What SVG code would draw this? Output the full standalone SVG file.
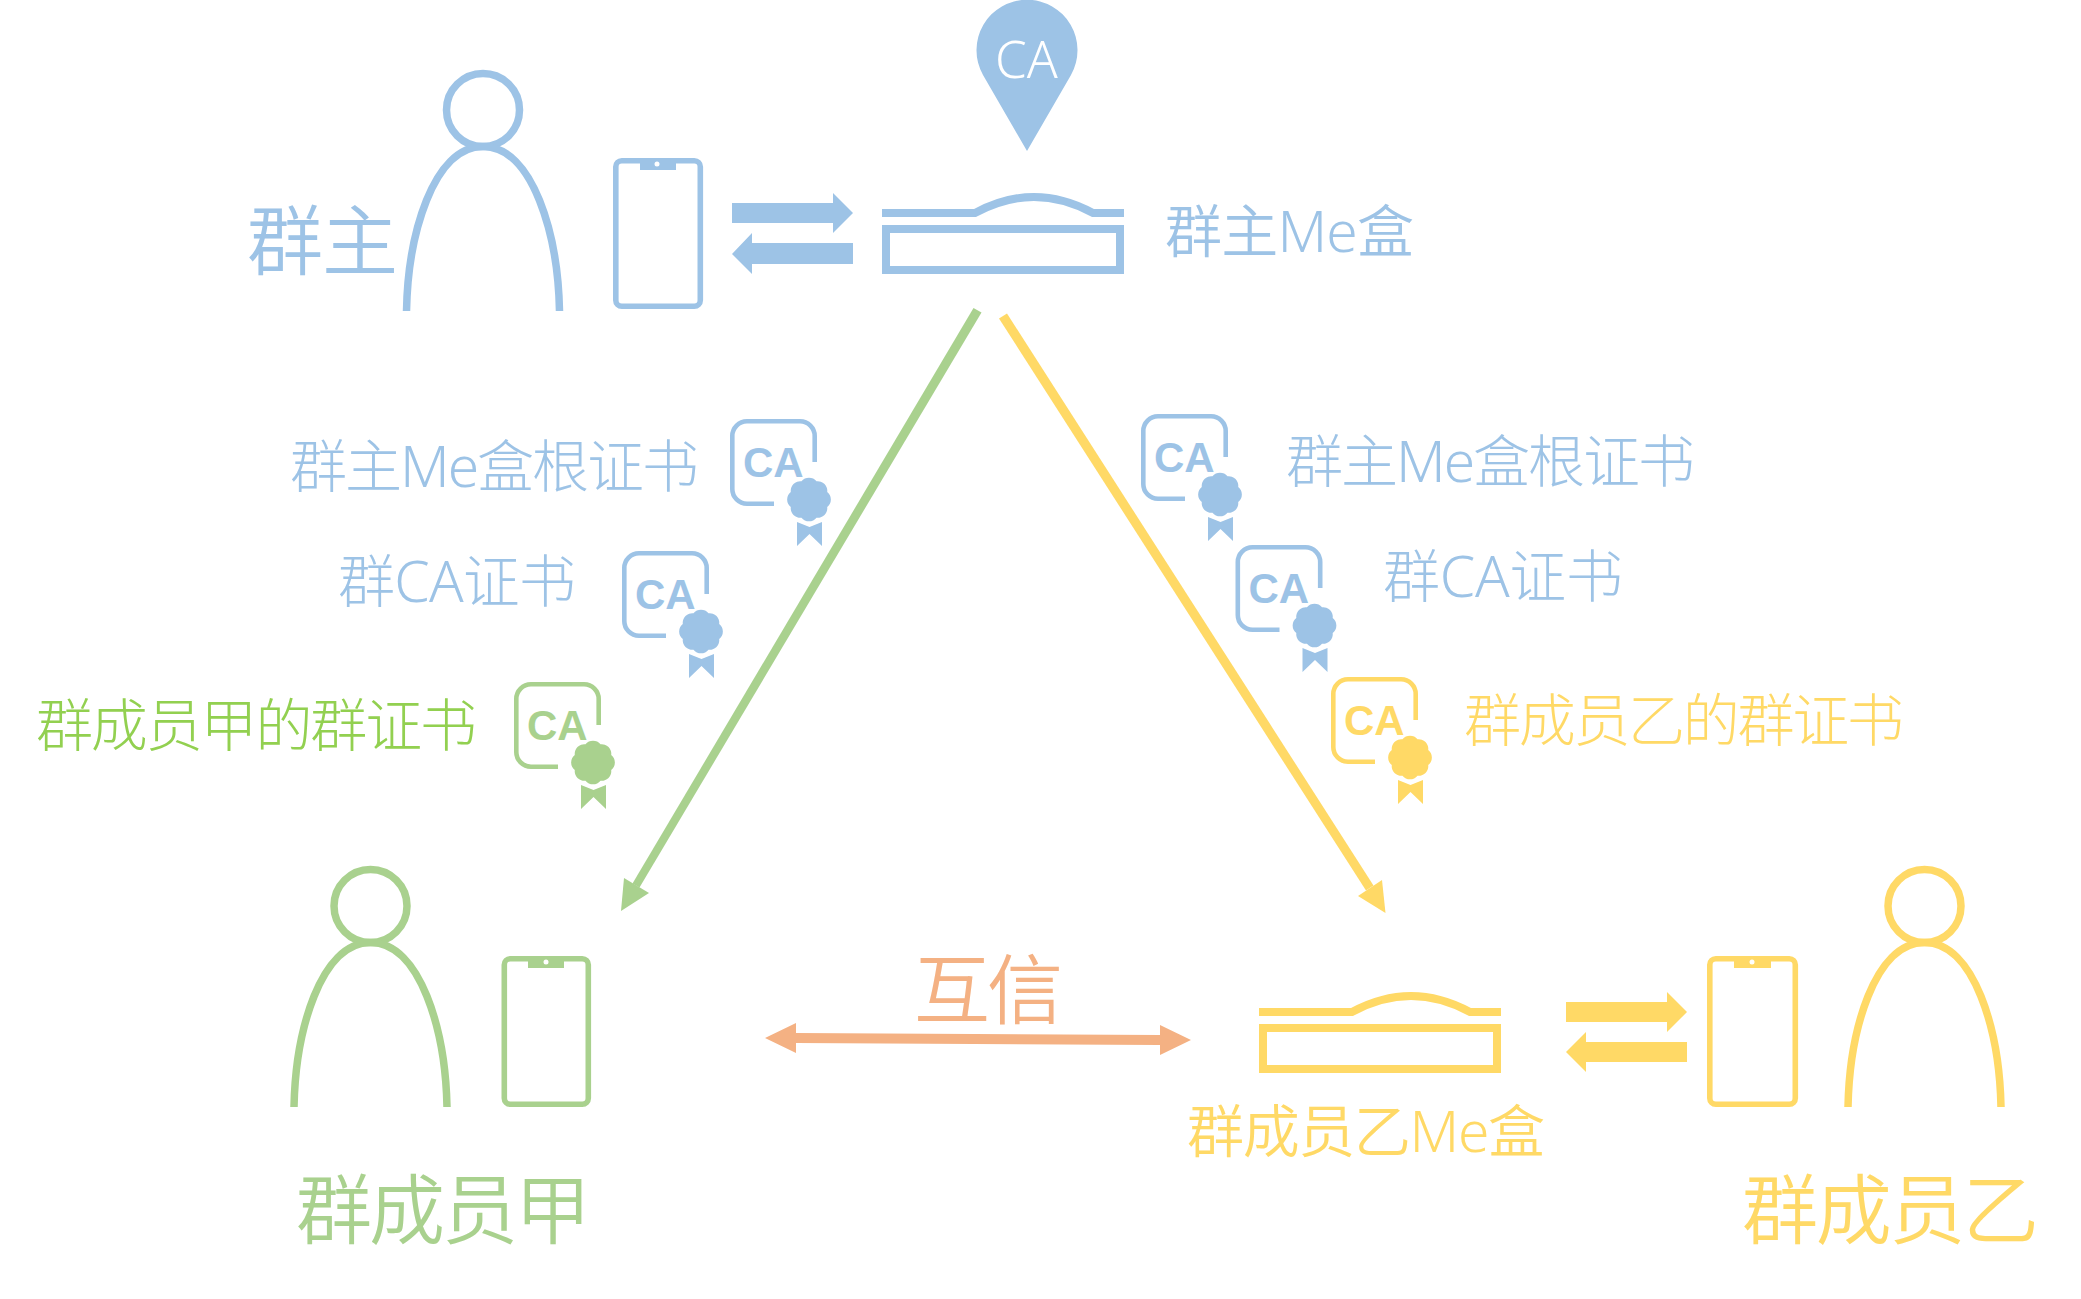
<svg xmlns="http://www.w3.org/2000/svg" xmlns:xlink="http://www.w3.org/1999/xlink" width="2081" height="1299" viewBox="0 0 2081 1299">
<style>
text{font-family:"Noto Sans","Noto Sans CJK SC",sans-serif;font-weight:300}
.blue{color:#9DC3E6}.green{color:#A9D18E}.yellow{color:#FFD966}.orange{color:#F4B183}.lime{color:#92D050}
.t{fill:currentColor}
.s{fill:none;stroke:currentColor}
.f{fill:currentColor;stroke:none}
.l54{font-size:57px}.l72{font-size:76px;font-weight:350}.l55{font-size:57px;font-weight:350}
.cert-ca{font-family:"Liberation Sans",Arial,sans-serif;font-weight:700;font-size:42px;fill:currentColor}
</style>
<defs>
<g id="person">
<circle cx="0" cy="0" r="36.5" class="s" stroke-width="7.5"/>
<path d="M-76.5 201V201C-75 125-50 36.5 0 36.5S75 125 76.5 201" class="s" stroke-width="7.5"/>
</g>
<g id="box">
<path d="M0 4H93Q152-28 211 4H242" class="s" stroke-width="8"/>
<rect x="4" y="20" width="234" height="41" class="s" stroke-width="8"/>
</g>
<g id="cert">
<path d="M84.7 43V17A14.7 14.7 0 0 0 70 2.3H17A14.7 14.7 0 0 0 2.3 17V70A14.7 14.7 0 0 0 17 84.7H44" class="s" stroke-width="4.6"/>
<text x="13" y="58" class="cert-ca">CA</text>
<path d="M71.5-18.2A9.5 9.5 0 0 1 86.5-18.2A9.5 9.5 0 0 1 97.2-7.5A9.5 9.5 0 0 1 97.2 7.5A9.5 9.5 0 0 1 86.5 18.2A9.5 9.5 0 0 1 71.5 18.2A9.5 9.5 0 0 1 60.8 7.5A9.5 9.5 0 0 1 60.8-7.5A9.5 9.5 0 0 1 71.5-18.2Z" transform="translate(0 80.5)" class="f"/>
<path d="M67 103L79.5 108L92 103V127L79.5 115L67 127Z" class="f"/>
</g>
</defs>

<g id="connectors">
<polygon class="green f" points="973.5,308 981.5,312.5 639.5,887.5 632.5,883.5"/>
<polygon class="green f" points="624,878 649,893 621,911"/>
<polygon class="yellow f" points="999,318.5 1007,313.5 1373.5,885.5 1366,890.5"/>
<polygon class="yellow f" points="1382,880 1358,896 1385.5,913"/>
<polygon class="orange f" points="765,1038 796,1023 796,1033 1160,1035 1160,1025 1191,1040 1160,1055 1160,1045 796,1043 796,1053"/>
<polygon class="blue f" points="732,203 833,203 833,193 853,213 833,233 833,223 732,223"/>
<polygon class="blue f" points="853,243 752,243 752,233 732,254 752,274 752,264 853,264"/>
<polygon class="yellow f" points="1566,1002 1667,1002 1667,992 1687,1012 1667,1032 1667,1022 1566,1022"/>
<polygon class="yellow f" points="1687,1042 1586,1042 1586,1032 1566,1052 1586,1072 1586,1062 1687,1062"/>
</g>

<g id="owner" class="blue">
<use xlink:href="#person" href="#person" x="483" y="110"/>
<text class="t l72" x="247" y="269" textLength="151">群主</text>
</g>
<g id="owner-phone" class="blue">
<rect x="615.8" y="160.8" width="84.5" height="145.5" rx="6" class="s" stroke-width="5.6"/>
<rect x="640" y="160" width="36" height="10" class="f"/>
<ellipse cx="657" cy="164" rx="2.5" ry="2.5" fill="#fff"/>
</g>
<g id="owner-box" class="blue">
<use xlink:href="#box" href="#box" x="882" y="209"/>
<text class="t l55" x="1165" y="252" textLength="249">群主Me盒</text>
</g>
<g id="ca-pin" class="blue">
<path d="M1027 151L983 75A50.5 50.5 0 1 1 1071 75Z" class="f"/>
<text x="995" y="78" style="font-size:51px" fill="#fff">CA</text>
</g>

<g id="cert-left-root" class="blue">
<use xlink:href="#cert" href="#cert" x="730" y="419"/>
<text class="t l54" x="290" y="487" textLength="409">群主Me盒根证书</text>
</g>
<g id="cert-left-ca" class="blue">
<use xlink:href="#cert" href="#cert" x="622" y="551"/>
<text class="t l54" x="338" y="602" textLength="238">群CA证书</text>
</g>
<g id="cert-left-member" class="green">
<use xlink:href="#cert" href="#cert" x="514" y="682"/>
<text class="lime t l54" x="36" y="746" textLength="441">群成员甲的群证书</text>
</g>
<g id="cert-right-root" class="blue">
<use xlink:href="#cert" href="#cert" x="1141" y="414"/>
<text class="t l54" x="1286" y="482" textLength="409">群主Me盒根证书</text>
</g>
<g id="cert-right-ca" class="blue">
<use xlink:href="#cert" href="#cert" x="1235.5" y="545"/>
<text class="t l54" x="1383" y="597" textLength="240">群CA证书</text>
</g>
<g id="cert-right-member" class="yellow">
<use xlink:href="#cert" href="#cert" x="1331" y="677"/>
<text class="t l54" x="1464" y="741" textLength="440">群成员乙的群证书</text>
</g>

<g id="trust" class="orange">
<text class="t l72" x="914" y="1018" textLength="149">互信</text>
</g>

<g id="member-a" class="green">
<use xlink:href="#person" href="#person" x="370.5" y="906"/>
<text class="t l72" x="296" y="1238" textLength="295">群成员甲</text>
</g>
<g id="member-a-phone" class="green">
<rect x="504.3" y="958.8" width="84" height="145.5" rx="6" class="s" stroke-width="5.6"/>
<rect x="528" y="958" width="36" height="10" class="f"/>
<ellipse cx="546" cy="962" rx="2.5" ry="2.5" fill="#fff"/>
</g>
<g id="member-b-box" class="yellow">
<use xlink:href="#box" href="#box" x="1259" y="1008"/>
<text class="t l55" x="1187" y="1152" textLength="358">群成员乙Me盒</text>
</g>
<g id="member-b-phone" class="yellow">
<rect x="1709.8" y="958.8" width="85.5" height="145.5" rx="6" class="s" stroke-width="5.6"/>
<rect x="1734" y="958" width="37" height="10" class="f"/>
<ellipse cx="1752" cy="962" rx="2.5" ry="2.5" fill="#fff"/>
</g>
<g id="member-b" class="yellow">
<use xlink:href="#person" href="#person" x="1924.5" y="906"/>
<text class="t l72" x="1742" y="1238" textLength="297">群成员乙</text>
</g>
</svg>
